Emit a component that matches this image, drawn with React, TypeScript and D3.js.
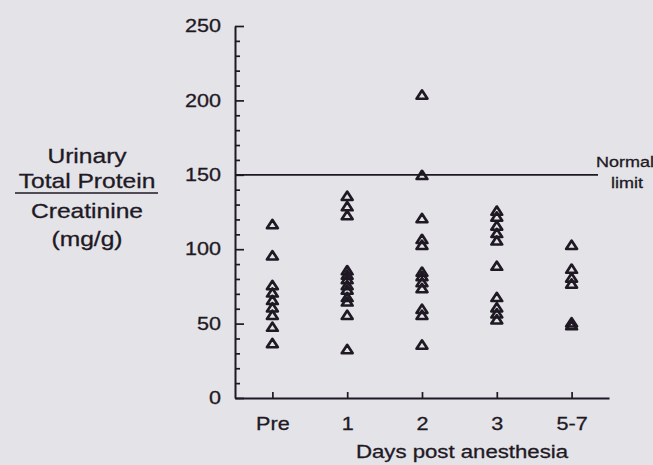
import React, { useRef, useEffect } from 'react';
import * as d3 from 'd3';

// categories and readings (mg/g) per day
const categories = ['Pre', '1', '2', '3', '5-7'];
const preValues = [116, 95, 75, 70, 65, 60, 55, 47, 36];
const day1Values = [135, 128, 122, 85, 82, 79, 75, 72, 67, 64, 55, 32];
const day2Values = [203, 149, 120, 106, 102, 84, 81, 77, 73, 59, 55, 35];
const day3Values = [125, 121, 115, 110, 105, 88, 67, 60, 56, 52];
const day57Values = [102, 86, 80, 76, 50, 48];
const majorTicks = [0, 50, 100, 150, 200, 250];
const normalLimit = 150;
const yLabelLines = ['Urinary', 'Total Protein', 'Creatinine', '(mg/g)'];

const W = 653;
const H = 465;
const SX = 1.2; // scan is stretched horizontally
const INK = '#1f1924';
const FONT = '"Liberation Sans", Arial, Helvetica, sans-serif';

const App = () => {
  const svgRef = useRef<SVGSVGElement>(null);

  useEffect(() => {
    const svg = d3.select(svgRef.current);
    svg.selectAll('*').remove();

    svg.append('rect').attr('width', W).attr('height', H).attr('fill', '#e3e3e8');

    const x = d3.scalePoint<string>().domain(categories).range([235, 609]).padding(0.5);
    const y = d3.scaleLinear().domain([0, 250]).range([398, 26]);

    const stretchText = (g) => {
      g.selectAll('text').each(function () {
        const t = d3.select(this);
        const xx = +t.attr('x') || 0;
        t.attr('x', xx / SX).attr('transform', `scale(${SX},1)`);
      });
    };

    // y axis minor ticks
    const minor = d3.range(10, 250, 10).filter((v) => v % 50 !== 0);
    svg.append('g')
      .attr('transform', 'translate(235,0)')
      .call(d3.axisLeft(y).tickValues(minor).tickSize(-5).tickSizeOuter(0).tickFormat(() => ''))
      .call((g) => g.select('.domain').remove())
      .call((g) => g.selectAll('line').attr('stroke', INK).attr('stroke-width', 1.7));

    // y axis major
    svg.append('g')
      .attr('transform', 'translate(235,0)')
      .call(d3.axisLeft(y).tickValues(majorTicks).tickSize(-9).tickSizeOuter(0).tickPadding(14))
      .call((g) => g.select('.domain').attr('stroke', INK).attr('stroke-width', 2))
      .call((g) => g.selectAll('line').attr('stroke', INK).attr('stroke-width', 1.7))
      .call((g) => g.selectAll('text').attr('fill', INK).attr('stroke', INK).attr('stroke-width', 0.3)
        .style('font-family', FONT).style('font-size', '18px'))
      .call(stretchText);

    // x axis
    svg.append('g')
      .attr('transform', 'translate(0,398)')
      .call(d3.axisBottom(x).tickSize(-6).tickSizeOuter(0).tickPadding(19))
      .call((g) => g.select('.domain').attr('stroke', INK).attr('stroke-width', 2))
      .call((g) => g.selectAll('line').attr('stroke', INK).attr('stroke-width', 1.7))
      .call((g) => g.selectAll('text').attr('fill', INK).attr('stroke', INK).attr('stroke-width', 0.3)
        .style('font-family', FONT).style('font-size', '18px'))
      .call(stretchText);

    // normal limit line
    svg.append('line')
      .attr('x1', 235).attr('x2', 598)
      .attr('y1', y(normalLimit)).attr('y2', y(normalLimit))
      .attr('stroke', INK).attr('stroke-width', 1.7);

    const label = (txt, cx, by, size) =>
      svg.append('g')
        .attr('transform', `translate(${cx},${by}) scale(${SX},1)`)
        .append('text')
        .attr('text-anchor', 'middle')
        .attr('fill', INK)
        .attr('stroke', INK)
        .attr('stroke-width', 0.3)
        .style('font-family', FONT)
        .style('font-size', size + 'px')
        .text(txt);

    label('Normal', 625, 167, 15);
    label('limit', 627, 188, 15);

    // y label
    const yBases = [163, 188, 218, 246];
    yLabelLines.forEach((t, i) => label(t, 87, yBases[i], 20.5));
    svg.append('line')
      .attr('x1', 15).attr('x2', 158).attr('y1', 193).attr('y2', 193)
      .attr('stroke', INK).attr('stroke-width', 1.7);

    label('Days post anesthesia', 462, 458, 18.5);

    // points
    const series = [preValues, day1Values, day2Values, day3Values, day57Values];
    const points = series.flatMap((vals, i) => vals.map((v) => ({ cat: categories[i], v })));
    const tri = d3.symbol().type(d3.symbolTriangle).size(40);

    svg.append('g')
      .selectAll('path')
      .data(points)
      .enter()
      .append('path')
      .attr('d', tri)
      .attr('transform', (d) => `translate(${x(d.cat)},${y(d.v)}) scale(1.12,1)`)
      .attr('fill', 'none')
      .attr('stroke', INK)
      .attr('stroke-width', 2.5)
      .attr('stroke-linejoin', 'round');
  }, []);

  return (
    <svg ref={svgRef} width={W} height={H} style={{ position: 'absolute', left: 0, top: 0 }} />
  );
};

export default App;
